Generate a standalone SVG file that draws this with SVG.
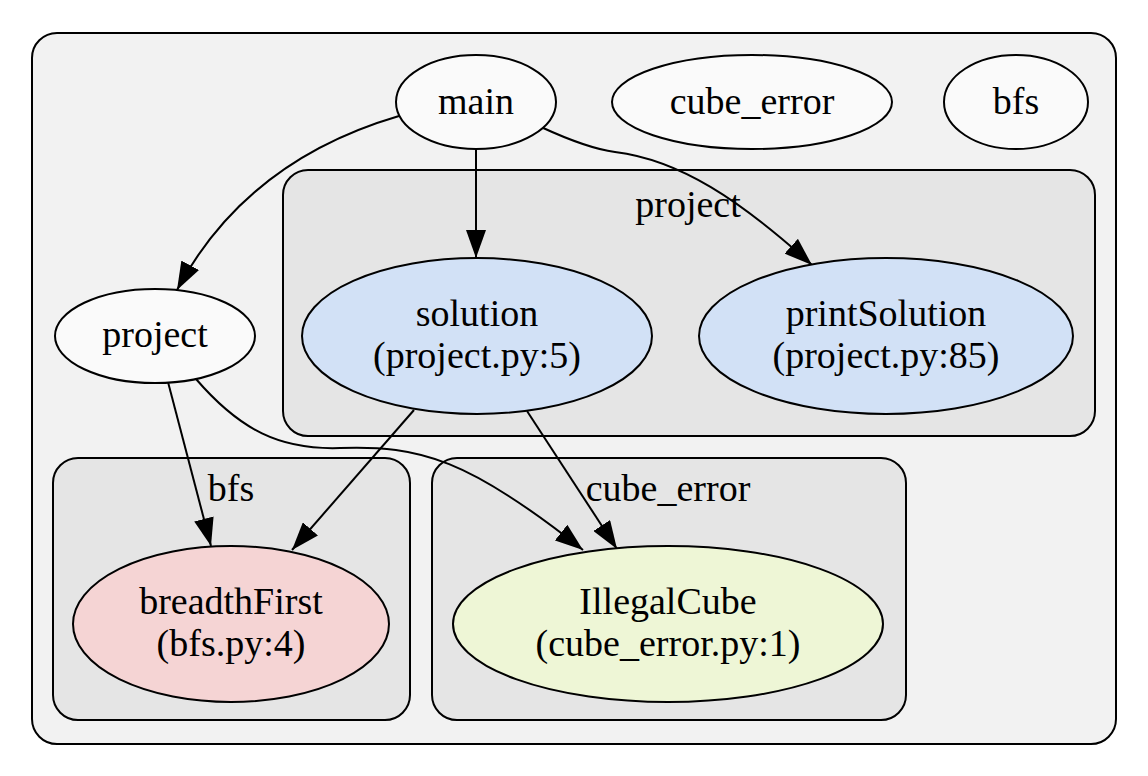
<svg xmlns="http://www.w3.org/2000/svg" width="1148" height="776" viewBox="0 0 1148 776">
<style>
text{font-family:"Liberation Serif","Times New Roman",Times,"DejaVu Serif",serif;font-size:38px;fill:#000;text-anchor:middle}
.cl{stroke:#000;stroke-width:2}
.nd{stroke:#000;stroke-width:2}
.e{fill:none;stroke:#000;stroke-width:2;marker-end:url(#ah)}
</style>
<defs>
<marker id="ah" viewBox="0 0 28 20" refX="28" refY="10" markerWidth="28" markerHeight="20" markerUnits="userSpaceOnUse" orient="auto">
<path d="M0,0 L28,10 L0,20 z" fill="#000"/>
</marker>
</defs>
<rect width="1148" height="776" fill="#fff"/>
<g id="cluster_outer"><rect class="cl" x="32" y="33" width="1084" height="711" rx="25" fill="#f2f2f2"/></g>
<g id="cluster_project"><rect class="cl" x="283" y="170" width="812" height="266" rx="25" fill="#e5e5e5"/><text x="688" y="217">project</text></g>
<g id="cluster_bfs"><rect class="cl" x="53" y="458" width="357" height="262" rx="25" fill="#e5e5e5"/><text x="231" y="501">bfs</text></g>
<g id="cluster_cube_error"><rect class="cl" x="432" y="458" width="474" height="262" rx="25" fill="#e5e5e5"/><text x="668" y="501">cube_error</text></g>
<g id="edges">
<path class="e" d="M399,116 C300,145 225,200 177,290"/>
<path class="e" d="M476,149 L476,258"/>
<path class="e" d="M541,127 C580,145 600,150 615,152 C680,160 740,200 812,265"/>
<path class="e" d="M168,382 L211,546"/>
<path class="e" d="M196,379 C240,430 280,450 340,448 C420,445 470,460 583,550"/>
<path class="e" d="M414,410 L292,550"/>
<path class="e" d="M527,411 L617,549"/>
</g>
<g id="node_main"><ellipse class="nd" cx="476" cy="102" rx="80" ry="47" fill="#fafafa"/><text x="476" y="114">main</text></g>
<g id="node_cube_error"><ellipse class="nd" cx="752" cy="102" rx="140" ry="47" fill="#fafafa"/><text x="752" y="114">cube_error</text></g>
<g id="node_bfs"><ellipse class="nd" cx="1016" cy="102" rx="72" ry="47" fill="#fafafa"/><text x="1016" y="114">bfs</text></g>
<g id="node_project"><ellipse class="nd" cx="155" cy="336" rx="100" ry="47" fill="#fafafa"/><text x="155" y="347">project</text></g>
<g id="node_solution"><ellipse class="nd" cx="477" cy="336" rx="175" ry="78" fill="#d2e1f6"/><text x="477" y="326">solution</text><text x="477" y="368">(project.py:5)</text></g>
<g id="node_printSolution"><ellipse class="nd" cx="886" cy="336" rx="187" ry="78" fill="#d2e1f6"/><text x="886" y="326">printSolution</text><text x="886" y="368">(project.py:85)</text></g>
<g id="node_breadthFirst"><ellipse class="nd" cx="231" cy="624" rx="158" ry="78" fill="#f5d4d4"/><text x="231" y="614">breadthFirst</text><text x="231" y="656">(bfs.py:4)</text></g>
<g id="node_IllegalCube"><ellipse class="nd" cx="668" cy="624" rx="215" ry="78" fill="#eef6d6"/><text x="668" y="614">IllegalCube</text><text x="668" y="656">(cube_error.py:1)</text></g>
</svg>
